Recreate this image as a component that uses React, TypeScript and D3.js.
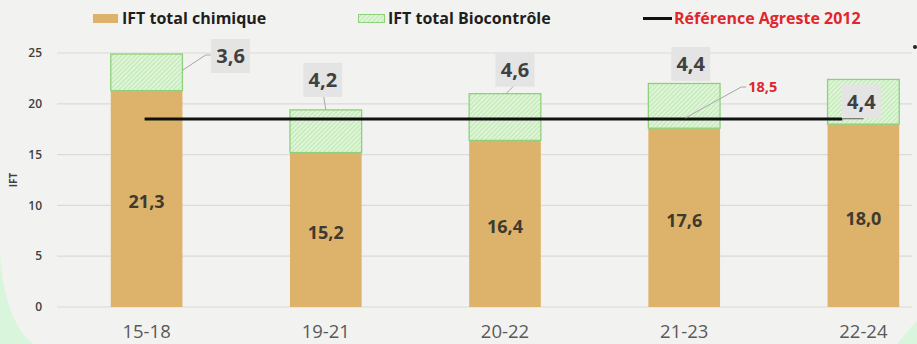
import React from "react";
import * as d3 from "d3";

const categories = ["15-18", "19-21", "20-22", "21-23", "22-24"];
const chimique = [21.3, 15.2, 16.4, 17.6, 18.0];
const biocontrole = [3.6, 4.2, 4.6, 4.4, 4.4];
const reference = 18.5;
const yTicks = [0, 5, 10, 15, 20, 25];
const chimiqueLabels = ["21,3", "15,2", "16,4", "17,6", "18,0"];
const bioLabels = ["3,6", "4,2", "4,6", "4,4", "4,4"];
const referenceLabel = "18,5";
const legendLabels = ["IFT total chimique", "IFT total Biocontrôle", "Référence Agreste 2012"];
const yTitle = "IFT";

// label placement offsets (px) relative to bar center / bar top
const bioLabelOffsets: [number, number][] = [
  [84, 2],
  [-3, -30],
  [10, -24],
  [6.5, -19.5],
  [-2, 22],
];

const W = 917;
const H = 344;
const FONT = "'Open Sans', 'DejaVu Sans', sans-serif";
const ORANGE = "#ddb36b";
const TXT = "#404040";

export default function App() {
  const x = d3
    .scaleBand<string>()
    .domain(categories)
    .range([57, 953])
    .paddingInner(0.6)
    .paddingOuter(0.3);
  const y = d3.scaleLinear().domain([0, 25]).range([307, 53]);
  const bw = x.bandwidth();
  const cx = (c: string) => (x(c) as number) + bw / 2;

  const refX0 = cx(categories[0]) - 2;
  const refX1 = cx(categories[categories.length - 1]);
  const refLine = d3.line<[number, number]>()([
    [refX0, y(reference)],
    [refX1 - 21, y(reference)],
  ]);

  return (
    <svg
      width={W}
      height={H}
      style={{ position: "absolute", left: 0, top: 0, display: "block" }}
      fontFamily={FONT}
    >
      <defs>
        <pattern id="hatch" width="3.2" height="3.2" patternUnits="userSpaceOnUse" patternTransform="rotate(45)">
          <rect width="3.2" height="3.2" fill="#dcf5d4" />
          <line x1="0" y1="0" x2="0" y2="3.2" stroke="#a9db9b" strokeWidth="1" />
        </pattern>
      </defs>
      <rect x={0} y={0} width={W} height={H} fill="#f2f3f1" />
      <path d="M0,255 C4,300 14,330 34,344 L0,344 Z" fill="#d9f6dd" />
      <path d="M917,320 L897,344 L917,344 Z" fill="#d9f6dd" />

      {/* gridlines */}
      {yTicks.map((t) => (
        <line key={t} x1={57} x2={912} y1={y(t)} y2={y(t)} stroke="#dadbd9" strokeWidth={1.2} />
      ))}
      {/* y ticks */}
      {yTicks.map((t) => (
        <text key={"t" + t} x={42} y={y(t)} dy="0.35em" textAnchor="end" fontSize={12} fontWeight={600} fill={TXT}>
          {t}
        </text>
      ))}
      <text
        transform={`translate(17,${(y(0) + y(25)) / 2}) rotate(-90)`}
        textAnchor="middle"
        fontSize={10}
        fontWeight={700}
        fill={TXT}
      >
        {yTitle}
      </text>

      {/* bars */}
      {categories.map((c, i) => (
        <g key={c}>
          <rect x={x(c)} y={y(chimique[i])} width={bw} height={y(0) - y(chimique[i])} fill={ORANGE} />
          <rect
            x={x(c)}
            y={y(chimique[i] + biocontrole[i])}
            width={bw}
            height={y(chimique[i]) - y(chimique[i] + biocontrole[i])}
            fill="url(#hatch)"
            stroke="#8fd07c"
            strokeWidth={1.3}
          />
          <text x={cx(c)} y={y(chimique[i] / 2) + 3} dy="0.35em" textAnchor="middle" fontSize={18} fontWeight={700} fill="#3e3a2f">
            {chimiqueLabels[i]}
          </text>
          <text x={cx(c)} y={338} textAnchor="middle" fontSize={18.5} fill="#595959">
            {c}
          </text>
        </g>
      ))}

      {/* reference line */}
      <path d={refLine || ""} stroke="#111" strokeWidth={3} fill="none" />
      <line x1={refX1 - 21} x2={refX1} y1={y(reference) - 0.5} y2={y(reference) - 0.5} stroke="#333" strokeWidth={1.3} />

      {/* leader lines for bio labels */}
      {(() => {
        const out: React.ReactNode[] = [];
        const c0 = categories[0];
        const top0 = y(chimique[0] + biocontrole[0]);
        const mid0 = (y(chimique[0]) + top0) / 2;
        const b0x = cx(c0) + bioLabelOffsets[0][0];
        const b0y = top0 + bioLabelOffsets[0][1];
        out.push(
          <polyline
            key="l0"
            points={`${(x(c0) as number) + bw},${mid0 - 2} ${b0x - 25},${b0y - 1} ${b0x - 20},${b0y - 1}`}
            fill="none"
            stroke="#a6a6a6"
            strokeWidth={1}
          />
        );
        const c1 = categories[1];
        const top1 = y(chimique[1] + biocontrole[1]);
        out.push(
          <line key="l1" x1={cx(c1) - 2} y1={top1 + bioLabelOffsets[1][1] + 17} x2={cx(c1)} y2={top1} stroke="#a6a6a6" strokeWidth={1} />
        );
        const c2 = categories[2];
        const top2 = y(chimique[2] + biocontrole[2]);
        out.push(
          <line key="l2" x1={cx(c2) + 9} y1={top2 + bioLabelOffsets[2][1] + 16} x2={cx(c2) + 1} y2={top2} stroke="#a6a6a6" strokeWidth={1} />
        );
        return out;
      })()}

      {/* bio labels */}
      {categories.map((c, i) => {
        const bx = cx(c) + bioLabelOffsets[i][0];
        const by = y(chimique[i] + biocontrole[i]) + bioLabelOffsets[i][1];
        return (
          <g key={"b" + c}>
            <rect x={bx - 19.5} y={by - 17} width={39} height={34} fill="#e4e4e4" />
            <text x={bx} y={by} dy="0.36em" textAnchor="middle" fontSize={20} fontWeight={700} fill={TXT}>
              {bioLabels[i]}
            </text>
          </g>
        );
      })}

      {/* reference label */}
      <polyline
        points={`${cx(categories[3]) + 1},${y(reference) - 1} ${cx(categories[3]) + 57},${y(reference) - 32} ${cx(categories[3]) + 62},${y(reference) - 32}`}
        fill="none"
        stroke="#a6a6a6"
        strokeWidth={1}
      />
      <text x={cx(categories[3]) + 64} y={y(reference) - 32} dy="0.35em" fontSize={14.5} fontWeight={700} fill="#e0252d">
        {referenceLabel}
      </text>

      {/* legend */}
      <rect x={93} y={14} width={25} height={9} fill={ORANGE} />
      <text x={122} y={18} dy="0.35em" fontSize={16} fontWeight={700} fill="#1e1e1e">
        {legendLabels[0]}
      </text>
      <rect x={358.5} y={14.5} width={26} height={8} fill="url(#hatch)" stroke="#8fd07c" strokeWidth={1} />
      <text x={388} y={18} dy="0.35em" fontSize={16} fontWeight={700} fill="#1e1e1e">
        {legendLabels[1]}
      </text>
      <line x1={643} x2={672} y1={18.5} y2={18.5} stroke="#111" strokeWidth={3} />
      <text x={674} y={18} dy="0.35em" fontSize={16} fontWeight={700} fill="#e0252d">
        {legendLabels[2]}
      </text>
      <circle cx={915} cy={47} r={2} fill="#222" />
    </svg>
  );
}
